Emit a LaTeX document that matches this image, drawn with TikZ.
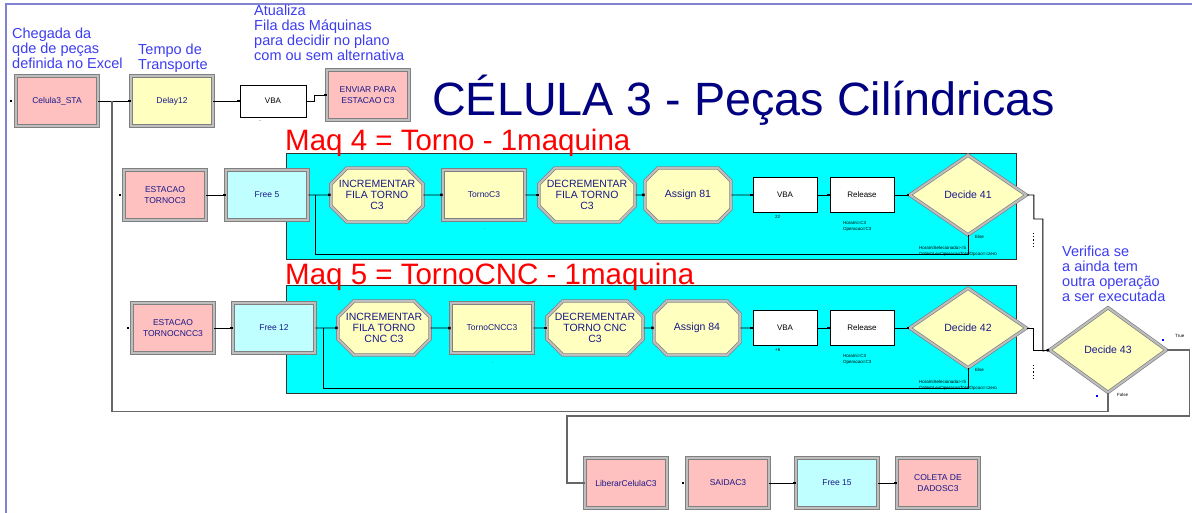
\documentclass[tikz,border=0pt]{standalone}
\usepackage{fontspec}
\setmainfont{Liberation Sans}
\usepackage{xcolor}
\usepackage{tikz}
\usetikzlibrary{calc, positioning, backgrounds, arrows.meta, shapes, shapes.geometric, shapes.misc}
\definecolor{labelnavy}{RGB}{24, 24, 135}
\definecolor{titlenavy}{RGB}{0, 0, 128}
\definecolor{noteblue}{RGB}{60, 60, 240}
\definecolor{pinkfill}{RGB}{255, 192, 192}
\definecolor{yellowfill}{RGB}{255, 255, 192}
\definecolor{freefill}{RGB}{192, 255, 255}
\definecolor{areafill}{RGB}{0, 255, 255}
\definecolor{modgray}{RGB}{128, 128, 128}
\definecolor{modlight}{RGB}{190, 190, 190}
\definecolor{framelav}{RGB}{130, 130, 210}
\tikzset{
    modulenode/.style = {draw=modgray, line width=0.7pt, double=modlight, double distance=2pt, rectangle, 
      inner sep=0pt, node distance=0em, minimum width=82pt, minimum height=50pt, align=center,
      text=labelnavy, font=\fontsize{8.5}{11}\selectfont},
    pinknode/.style = {modulenode, fill=pinkfill},
    delaynode/.style = {modulenode, fill=yellowfill},
    freenode/.style = {modulenode, fill=freefill},
    octnode/.style = {modulenode, chamfered rectangle, chamfered rectangle xsep=8pt, chamfered rectangle ysep=8pt, 
      fill=yellowfill, minimum width=86pt, minimum height=54pt, font=\fontsize{10.5}{11}\selectfont},
    decidenode/.style = {modulenode, diamond, aspect=1.46, fill=yellowfill, minimum width=117pt, minimum height=80pt,
      font=\fontsize{10.5}{12}\selectfont},
    vbanode/.style = {draw=black, line width=0.7pt, fill=white, rectangle, inner sep=0pt, node distance=0em,
      minimum width=64pt, minimum height=35pt, font=\fontsize{8}{10}\selectfont},
    textnode/.style = {draw=none, fill=none, rectangle, inner sep=0pt, node distance=0em},
    notenode/.style = {textnode, text=noteblue, align=left, anchor=north west, font=\fontsize{14.5}{15}\selectfont},
    titlenode/.style = {textnode, text=titlenavy, anchor=base west, font=\fontsize{46.7}{50}\selectfont},
    maqnode/.style = {textnode, text=red, anchor=base west, font=\fontsize{29.5}{32}\selectfont},
    tinynode/.style = {textnode, align=left, anchor=north west, font=\fontsize{4.5}{6}\selectfont},
    dotnode/.style = {fill=black, rectangle, minimum size=2.5pt, inner sep=0pt, node distance=0em},
    bluedotnode/.style = {dotnode, fill=blue},
    areanode/.style = {fill=areafill, draw=black!80, line width=0.8pt},
    connect/.style = {black, line width=0.8pt, -{Square[length=2.5pt, width=2.5pt]}},
    backconnect/.style = {black, line width=0.8pt},
    grayconnect/.style = {draw=black!60, line width=1.2pt}
}

\begin{document}
\begin{tikzpicture}[x=1pt, y=-1pt, node distance=0em]
    \useasboundingbox (0,0) rectangle (1192,513);
    \draw[framelav, line width=1.2pt] (6,513) -- (6,4) -- (1192,4);

    \draw[areanode] (286,153) rectangle (1016,259);
    \draw[areanode] (286,285) rectangle (1016,393);

    \node[notenode, name=NoteArrival] at (12,28) {Chegada da\\qde de peças\\definida no Excel};
    \node[notenode, name=NoteTransport] at (138,44) {Tempo de\\Transporte};
    \node[notenode, name=NoteQueue] at (254,5) {Atualiza\\Fila das Máquinas\\para decidir no plano\\com ou sem alternativa};
    \node[titlenode, name=Title] at (432,116) {CÉLULA 3 - Peças Cilíndricas};
    \node[maqnode, name=Maq4] at (285,151) {Maq 4 = Torno - 1maquina};
    \node[maqnode, name=Maq5] at (285,284) {Maq 5 = TornoCNC - 1maquina};
    \node[notenode, name=NoteCheck] at (1062,246) {Verifica se\\a ainda tem\\outra operação\\a ser executada};

    \node[pinknode, name=Cel] at (57,101) {Celula3\_STA};
    \node[delaynode, name=Delay, right of=Cel, xshift=115pt] {Delay12};
    \node[vbanode, name=VBA0, right of=Delay, xshift=101pt, minimum width=66pt, minimum height=32pt] {VBA};
    \node[pinknode, name=Enviar, right of=VBA0, xshift=95pt, yshift=6pt] {ENVIAR PARA\\ESTACAO C3};
    \node[dotnode, name=CelIn, left of=Cel, xshift=-46pt] {};
    \coordinate[right of=Cel, xshift=55pt] (Join0);
    \draw (Cel) edge[connect] (Delay);
    \draw (Delay) edge[connect] (VBA0);
    \draw[connect] (VBA0.east) -- ++(8,0) |- (Enviar.west);

    \node[pinknode, name=Est1] at (165,195) {ESTACAO\\TORNOC3};
    \node[freenode, name=Free5, right of=Est1, xshift=102pt] {Free 5};
    \node[octnode, name=Inc1, right of=Free5, xshift=110pt] {INCREMENTAR\\FILA TORNO\\C3};
    \node[delaynode, name=Torno, right of=Inc1, xshift=107pt] {TornoC3};
    \node[octnode, name=Dec1, right of=Torno, xshift=103pt] {DECREMENTAR\\FILA TORNO\\C3};
    \node[octnode, name=Asg81, right of=Dec1, xshift=101pt] {Assign 81};
    \node[vbanode, name=VBA1, right of=Asg81, xshift=97pt] {VBA};
    \node[vbanode, name=Rel1, right of=VBA1, xshift=77pt] {Release};
    \node[decidenode, name=Dec41, right of=Rel1, xshift=106pt] {Decide 41};
    \node[dotnode, name=Est1In, left of=Est1, xshift=-45pt] {};
    \coordinate[right of=Free5, xshift=48pt] (Join1);
    \draw (Est1) edge[connect] (Free5);
    \draw (Free5) edge[connect] (Inc1);
    \draw (Inc1) edge[connect] (Torno);
    \draw (Torno) edge[connect] (Dec1);
    \draw (Dec1) edge[connect] (Asg81);
    \draw (Asg81) edge[connect] (VBA1);
    \draw (VBA1) edge[connect] (Rel1);
    \draw (Rel1) edge[connect] (Dec41);
    \draw[backconnect] (Dec41.south) -- ++(0,19) -| (Join1);

    \node[pinknode, name=Est2] at (173,328) {ESTACAO\\TORNOCNCC3};
    \node[freenode, name=Free12, right of=Est2, xshift=101pt] {Free 12};
    \node[octnode, name=Inc2, right of=Free12, xshift=110pt] {INCREMENTAR\\FILA TORNO\\CNC C3};
    \node[delaynode, name=TornoCNC, right of=Inc2, xshift=108pt] {TornoCNCC3};
    \node[octnode, name=Dec2, right of=TornoCNC, xshift=103pt] {DECREMENTAR\\TORNO CNC\\C3};
    \node[octnode, name=Asg84, right of=Dec2, xshift=102pt] {Assign 84};
    \node[vbanode, name=VBA2, right of=Asg84, xshift=88pt] {VBA};
    \node[vbanode, name=Rel2, right of=VBA2, xshift=77pt] {Release};
    \node[decidenode, name=Dec42, right of=Rel2, xshift=106pt] {Decide 42};
    \node[dotnode, name=Est2In, left of=Est2, xshift=-45pt] {};
    \coordinate[right of=Free12, xshift=49pt] (Join2);
    \draw (Est2) edge[connect] (Free12);
    \draw (Free12) edge[connect] (Inc2);
    \draw (Inc2) edge[connect] (TornoCNC);
    \draw (TornoCNC) edge[connect] (Dec2);
    \draw (Dec2) edge[connect] (Asg84);
    \draw (Asg84) edge[connect] (VBA2);
    \draw (VBA2) edge[connect] (Rel2);
    \draw (Rel2) edge[connect] (Dec42);
    \draw[backconnect] (Dec42.south) -- ++(0,20) -| (Join2);

    \node[decidenode, name=Dec43, right of=Dec42, xshift=140pt, yshift=-22pt, minimum height=85pt] {Decide 43};
    \draw[connect] (Dec41.east) -- ++(7,0) -- ++(0,24) -- ++(9,0) -- ++(0,132) -- (Dec43.west);
    \draw[connect] (Dec42.east) -- ++(7,0) -- ++(0,22) -- (Dec43.west);
    \draw[dotted, line width=1.2pt] ($(Dec41.east)+(7,38)$) -- ++(0,14);
    \draw[dotted, line width=1.2pt] ($(Dec42.east)+(7,37)$) -- ++(0,14);

    \node[pinknode, name=Lib] at (626,483) {LiberarCelulaC3};
    \node[pinknode, name=Saida, right of=Lib, xshift=102pt] {SAIDAC3};
    \node[freenode, name=Free15, right of=Saida, xshift=109pt] {Free 15};
    \node[pinknode, name=Coleta, right of=Free15, xshift=101pt] {COLETA DE\\DADOSC3};
    \node[dotnode, name=SaidaIn, left of=Saida, xshift=-45pt] {};
    \coordinate[left of=Lib, xshift=-59pt] (LibCorner);
    \draw (Saida) edge[connect] (Free15);
    \draw (Free15) edge[connect] (Coleta);
    \draw[grayconnect] (Dec43.east) -- ++(23,0) -- ++(0,66) -| (LibCorner) -- (Lib.west);
    \draw[grayconnect] (Dec43.south) -- ++(0,19) -| (Join0);

    \node[tinynode] at (259,121) {..};
    \node[tinynode] at (484,229) {.};
    \node[tinynode] at (775,215) {22};
    \node[tinynode] at (843,221) {HoraIni=C3\\Operacao=C3};
    \node[tinynode] at (975,235) {Else};
    \node[tinynode] at (919,246) {HoraIniSelecionada>=5\\OrdemLeuOperacaoTotalOpcao==zero};
    \node[tinynode] at (492,363) {.};
    \node[tinynode] at (775,348) {+6};
    \node[tinynode] at (843,354) {HoraIni=C3\\Operacao=C3};
    \node[tinynode] at (975,368) {Else};
    \node[tinynode] at (919,380) {HoraIniSelecionada>=5\\OrdemLeuOperacaoTotalOpcao==zero};
    \node[tinynode] at (1175,334) {True};
    \node[tinynode] at (1117,393) {False};
    \node[bluedotnode] at (1163,340) {};
    \node[bluedotnode] at (1097,396) {};
\end{tikzpicture}
\end{document}
